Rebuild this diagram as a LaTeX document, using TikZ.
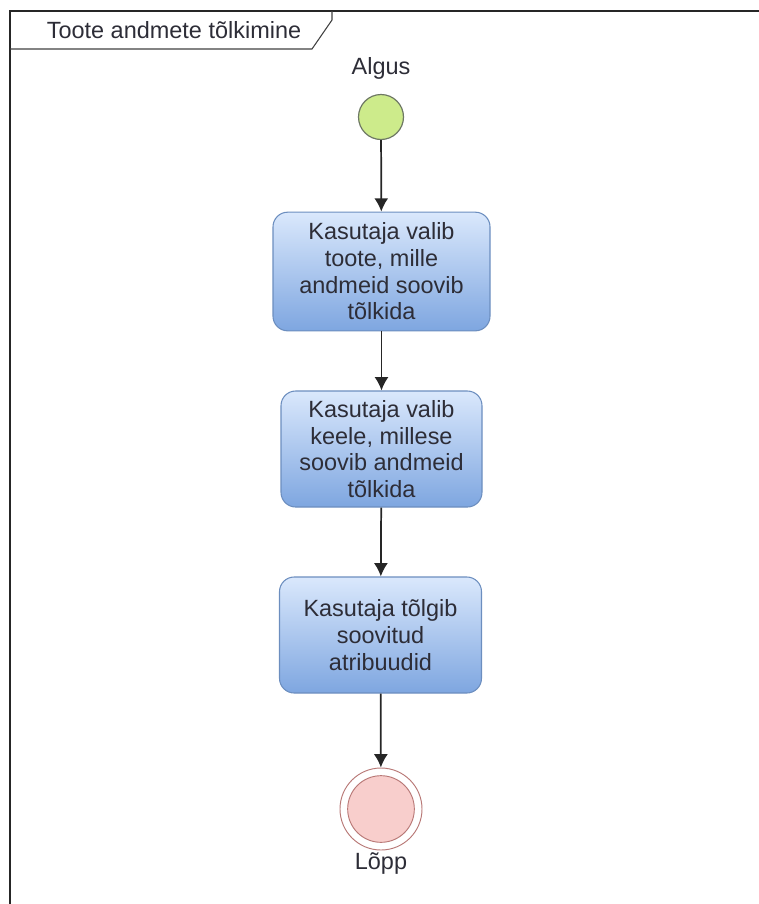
\documentclass[tikz,border=0pt]{standalone}
\usepackage{fontspec}
\setmainfont{Liberation Sans}
\usetikzlibrary{arrows.meta,positioning}
\definecolor{actTop}{RGB}{218,232,252}
\definecolor{actBot}{RGB}{126,166,224}
\definecolor{actLine}{RGB}{108,142,191}
\definecolor{startFill}{RGB}{205,235,139}
\definecolor{startLine}{RGB}{110,120,100}
\definecolor{stopFill}{RGB}{248,206,204}
\definecolor{stopLine}{RGB}{184,120,118}
\definecolor{txtcol}{RGB}{45,45,55}
\begin{document}
\begin{tikzpicture}[x=0.75pt, y=-0.75pt, >={Latex[length=10pt,width=10.5pt]},
  font=\fontsize{17.6}{20}\selectfont,
  activity/.style={draw=actLine, line width=0.8pt, rounded corners=11pt,
    top color=actTop, bottom color=actBot, align=center, text=txtcol,
    inner sep=0pt, minimum height=87pt},
  startnode/.style={circle, draw=startLine, line width=0.9pt, fill=startFill,
    minimum size=33.75pt, inner sep=0pt},
  stopnode/.style={circle, draw=stopLine, line width=0.7pt, fill=white,
    minimum size=61.5pt, inner sep=0pt},
  stopinner/.style={circle, draw=stopLine, line width=0.7pt, fill=stopFill,
    minimum size=50pt, inner sep=0pt},
  flow/.style={->, line width=1.3pt, black!85}]

  \useasboundingbox (0,0) rectangle (759,904);

  % -- frame and title tab --
  \draw[line width=1.3pt, black!85] (10,904) -- (10,11) -- (759,11);
  \draw[line width=0.8pt, black!75] (10,49) -- (312,49) -- (332,20) -- (332,11);
  \node[text=txtcol] (title) at (174,30) {Toote andmete tõlkimine};

  % -- start --
  \node[startnode] (start) at (381,117) {};
  \node[text=txtcol] (algus) at (381,68) {Algus};

  % -- activities --
  \node[activity, minimum width=162.75pt, minimum height=89pt] (act1) at (381.5,271.5)
    {Kasutaja valib\\toote, mille\\andmeid soovib\\tõlkida};
  \node[activity, minimum width=150.75pt] (act2) at (381.5,449)
    {Kasutaja valib\\keele, millese\\soovib andmeid\\tõlkida};
  \node[activity, minimum width=151.5pt] (act3) at (380.5,635)
    {Kasutaja tõlgib\\soovitud\\atribuudid};

  % -- stop --
  \node[stopnode] (stop) at (381,809) {};
  \node[stopinner] (stopIn) at (stop) {};
  \node[text=txtcol] (lopp) at (381,864) {Lõpp};

  % -- flow --
  \draw[flow] (start) -- (act1);
  \draw[flow] (act1) -- (act2);
  \draw[flow] (act2) -- (act3);
  \draw[flow] (act3) -- (stop);

\end{tikzpicture}
\end{document}
